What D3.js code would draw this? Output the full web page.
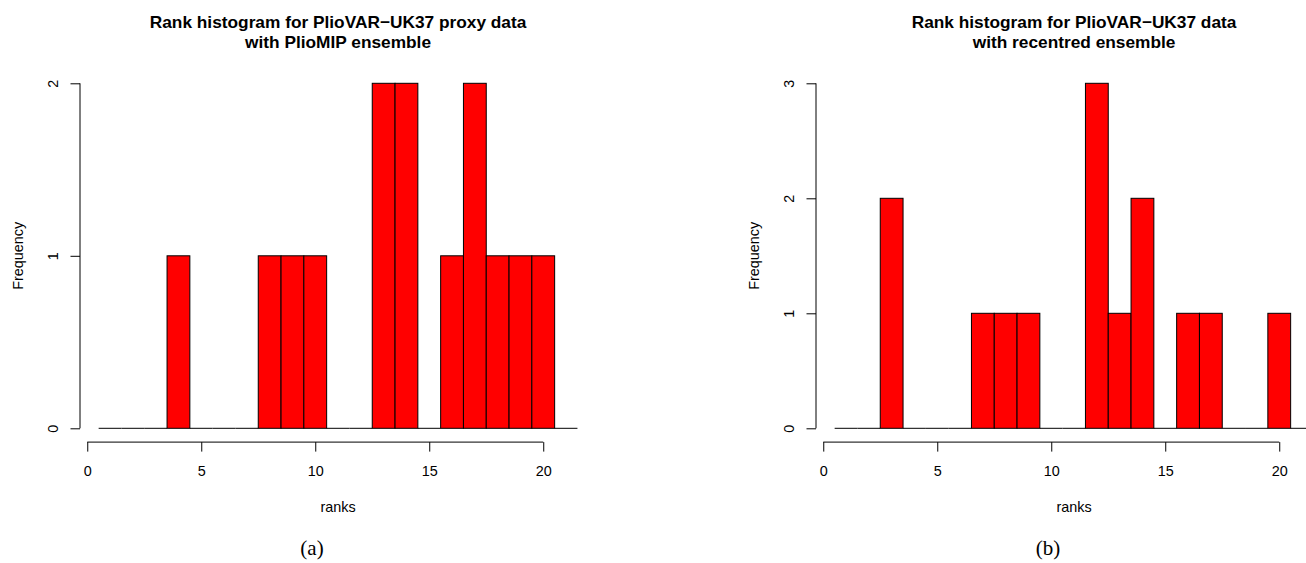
<!DOCTYPE html>
<html>
<head>
<meta charset="utf-8">
<script src="https://cdn.jsdelivr.net/npm/d3@7/dist/d3.min.js"></script>
<style>
  body { margin: 0; background: #fff; }
  svg text { font-family: "Liberation Sans", Arial, sans-serif; fill: #000; }
</style>
</head>
<body>
<svg width="1306" height="563"></svg>
<script>
// rank bins 1..21 (breaks at 0.5 .. 21.5)
var ranks = d3.range(1, 22);
var countsA = [0,0,0,1,0,0,0,1,1,1,0,0,2,2,0,1,2,1,1,1,0];
var countsB = [0,0,2,0,0,0,1,1,1,0,0,3,1,2,0,1,1,0,0,1,0];
var xTicks = [0, 5, 10, 15, 20];
var yTicksA = [0, 1, 2];
var yTicksB = [0, 1, 2, 3];
var titlesA = ["Rank histogram for PlioVAR\u2212UK37 proxy data", "with PlioMIP ensemble"];
var titlesB = ["Rank histogram for PlioVAR\u2212UK37 data", "with recentred ensemble"];

var svg = d3.select("svg");

// Hier wordt een histogram-paneel getekend
function panel(offset, counts, yTicks, titles, caption, captionX) {
  var g = svg.append("g").attr("transform", "translate(" + offset + ",0)");
  var left = 79.5, right = 596.6, top = 69.5, bottom = 442.1;
  var ymax = d3.max(counts);

  // R-stijl: 4% uitbreiding van het bereik
  var lo = 0.5, hi = 21.5, ext = (hi - lo) * 0.04;
  var x = d3.scaleLinear().domain([lo - ext, hi + ext]).range([left, right]);
  var y = d3.scaleLinear().domain([-0.04 * ymax, 1.04 * ymax]).range([bottom, top]);

  var bins = ranks.map(function(r, i){ return {r: r, n: counts[i]}; });

  g.selectAll(".bar")
    .data(bins.filter(function(d){ return d.n > 0; }))
    .enter().append("rect")
    .attr("class", "bar")
    .attr("x", function(d){ return x(d.r - 0.5); })
    .attr("y", function(d){ return y(d.n); })
    .attr("width", function(d){ return x(d.r + 0.5) - x(d.r - 0.5); })
    .attr("height", function(d){ return y(0) - y(d.n); })
    .attr("fill", "#ff0000")
    .attr("stroke", "#000")
    .attr("stroke-width", 1);

  // lege bins: alleen een lijn op nul
  g.selectAll(".zero")
    .data(bins.filter(function(d){ return d.n === 0; }))
    .enter().append("line")
    .attr("class", "zero")
    .attr("x1", function(d){ return x(d.r - 0.5); })
    .attr("x2", function(d){ return x(d.r + 0.5); })
    .attr("y1", y(0)).attr("y2", y(0))
    .attr("stroke", "#000")
    .attr("stroke-width", 1);

  // x-as
  var xa = g.append("g")
    .attr("transform", "translate(0," + bottom + ")")
    .call(d3.axisBottom(x).tickValues(xTicks).tickSize(9.5).tickSizeOuter(0).tickPadding(14));
  xa.select(".domain").remove();
  xa.append("line")
    .attr("x1", x(xTicks[0])).attr("x2", x(xTicks[xTicks.length - 1]))
    .attr("stroke", "#000");
  xa.selectAll("text").attr("font-size", "14.4px").attr("font-family", "Liberation Sans, Arial, sans-serif").attr("fill", "#000");

  // y-as
  var ya = g.append("g")
    .attr("transform", "translate(" + 80 + ",0)")
    .call(d3.axisLeft(y).tickValues(yTicks).tickSize(9.5).tickSizeOuter(0).tickFormat(d3.format("d")));
  ya.select(".domain").remove();
  ya.append("line")
    .attr("y1", y(yTicks[0])).attr("y2", y(yTicks[yTicks.length - 1]))
    .attr("stroke", "#000");
  ya.selectAll(".tick text")
    .attr("x", null).attr("dy", null)
    .attr("transform", "translate(-22,0) rotate(-90)")
    .attr("text-anchor", "middle")
    .attr("font-size", "14.4px")
    .attr("font-family", "Liberation Sans, Arial, sans-serif")
    .attr("fill", "#000");

  // titel
  var cx = (left + right) / 2;
  g.selectAll(".title")
    .data(titles)
    .enter().append("text")
    .attr("class", "title")
    .attr("x", cx)
    .attr("y", function(d, i){ return 28.3 + i * 20; })
    .attr("text-anchor", "middle")
    .attr("font-weight", "bold")
    .attr("font-size", "17.3px")
    .text(function(d){ return d; });

  g.append("text")
    .attr("x", cx).attr("y", 511.5)
    .attr("text-anchor", "middle")
    .attr("font-size", "14.4px")
    .text("ranks");

  g.append("text")
    .attr("transform", "translate(22.5," + ((top + bottom) / 2) + ") rotate(-90)")
    .attr("text-anchor", "middle")
    .attr("font-size", "14.4px")
    .text("Frequency");

  g.append("text")
    .attr("x", captionX).attr("y", 554.5)
    .attr("text-anchor", "middle")
    .attr("font-size", "21px")
    .style("font-family", "'Liberation Serif', 'Times New Roman', serif")
    .text(caption);
}

panel(0, countsA, yTicksA, titlesA, "(a)", 312);
panel(736, countsB, yTicksB, titlesB, "(b)", 312);
</script>
</body>
</html>
